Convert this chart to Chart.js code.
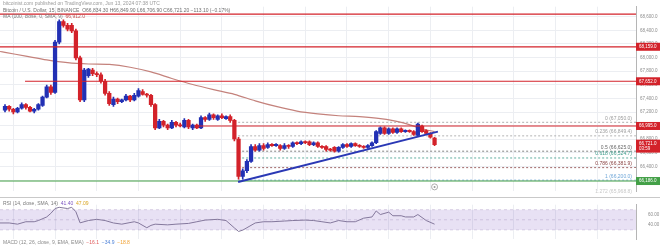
<!DOCTYPE html>
<html>
<head>
<meta charset="utf-8">
<script src="https://cdn.jsdelivr.net/npm/chart.js@4.4.1/dist/chart.umd.min.js"></script>
<style>
  html, body { margin: 0; padding: 0; background: #fff; }
  #wrap { position: relative; width: 660px; height: 246px; overflow: hidden; }
  .pane { position: absolute; left: 0; width: 660px; }
</style>
</head>
<body>
<div id="wrap">
  <div class="pane" style="top:0;height:198px"><canvas id="main"></canvas></div>
  <div class="pane" style="top:198px;height:48px"><canvas id="rsi"></canvas></div>
</div>
<script>
// BTC/USD 15 min candles
const openP = [67228,67282,67241,67200,67255,67310,67269,67214,67241,67296,67419,67570,67488,68228,68529,68474,68474,68392,67995,67378,
  67734,67817,67762,67748,67652,67474,67310,67392,67351,67378,67433,67378,67433,67502,67460,67447,67310,66967,67063,67008,
  66967,67049,67008,66981,67077,66967,67008,66967,67118,67091,67159,67091,67145,67104,67132,67077,66803,66255,66337,66474,
  66693,66638,66707,66680,66721,66707,66707,66666,66707,66693,66748,66735,66762,66762,66721,66748,66693,66693,66652,66680,
  66625,66680,66721,66693,66735,66707,66693,66680,66707,66748,66885,66967,66885,66954,66899,66954,66912,66926,66912,66858,
  66995,66926,66885,66817];
const highP = [67310,67296,67255,67269,67337,67323,67282,67255,67323,67433,67597,67597,68255,68556,68556,68502,68502,68419,68022,67844,
  67844,67844,67789,67776,67680,67502,67419,67406,67392,67460,67447,67474,67543,67529,67474,67460,67323,67091,67077,67022,
  67077,67063,67036,67104,67091,67022,67022,67145,67132,67186,67173,67159,67173,67145,67159,67091,66830,66364,66501,66721,
  66721,66735,66735,66748,66735,66735,66721,66735,66721,66762,66762,66776,66776,66776,66762,66762,66707,66707,66666,66693,
  66693,66735,66735,66748,66748,66721,66707,66721,66762,66926,66981,66981,66967,66967,66967,66967,66940,66940,66926,67036,
  67008,66940,66899,66830];
const lowP = [67200,67214,67173,67186,67241,67241,67200,67186,67228,67282,67406,67460,67474,68200,68447,68392,68365,67967,67351,67351,
  67707,67734,67721,67625,67447,67296,67282,67323,67337,67365,67351,67365,67419,67447,67419,67282,66940,66954,66981,66940,
  66954,66981,66981,66967,66954,66940,66954,66954,67063,67077,67091,67077,67104,67091,67049,66776,66214,66214,66310,66460,
  66625,66625,66638,66666,66693,66693,66638,66652,66666,66680,66721,66721,66735,66707,66707,66680,66666,66625,66625,66611,
  66611,66666,66680,66680,66693,66680,66666,66666,66693,66735,66871,66871,66871,66885,66885,66899,66899,66899,66858,66844,
  66899,66871,66817,66707];
const closeP = [67282,67241,67200,67255,67310,67269,67214,67241,67310,67419,67570,67488,68228,68529,68474,68419,68392,67995,67378,67817,
  67830,67762,67748,67652,67474,67323,67392,67351,67378,67433,67378,67447,67515,67460,67447,67310,66967,67063,67008,66967,
  67049,67008,66995,67077,66981,67008,66967,67118,67091,67159,67118,67145,67118,67132,67077,66803,66255,66337,66474,66693,
  66638,66707,66666,66721,66707,66721,66666,66707,66693,66748,66735,66762,66748,66721,66748,66693,66680,66652,66638,66625,
  66680,66721,66693,66735,66707,66693,66680,66707,66748,66912,66967,66885,66954,66899,66954,66912,66926,66912,66871,67022,
  66912,66885,66830,66721];

// simple moving average (100), traced
const maIdx = [-1.2, 0, 5, 10, 15, 20, 25, 30, 35, 40, 45, 50, 55, 60, 65, 70, 75, 80, 85, 90, 95, 100, 103];
const maVal = [68090,68077,68022,67967,67926,67906,67899,67858,67789,67693,67604,67529,67460,67365,67282,67214,67173,67145,67132,67104,67049,66954,66912];

// RSI (14), traced
const rsiIdx = [-1.2,1,3,5,7,8,10,11,12,13,15,16,17,18,20,22,24,26,28,31,32,34,35,36,39,41,44,46,48,51,53,55,56,57,58,60,62,64,67,69,72,74,76,78,80,82,84,86,88,89,90,92,93,95,96,98,99,101,103];
const rsiVal = [43.8,43.8,41.4,46.2,46.2,48.6,55.7,62.9,72.4,74.8,72.4,74.8,66,44,48.6,51,48.6,43.8,41.4,46.2,43.8,34.3,39,41.4,40,41.4,42.9,46.2,49.5,51,48.6,34,27,29.5,34.3,43.8,46.2,46.2,47.6,48.6,49.5,48.6,46.2,43.8,48.6,46.2,46.2,53.3,55.7,67.6,60.5,65.2,58.1,58.1,55.7,55.7,60.5,48.6,41.4];

// drawn levels
const redLevels = [68639, 68159, 67652, 66995];
const redFrom = [-1.2, -1.2, 4.8, 46.3];
const greenLevel = 66186;
const trendIdx = [55.9, 103.8];
const trendVal = [66173, 66912];
const fibTop = 67050, fibBottom = 66200, fibFrom = 55.9;
const fibRatios = [0, 0.236, 0.5, 0.618, 0.786, 1, 1.272];
const fibColors = ['#9a9a9a', '#a0a0a0', '#666666', '#3a9a88', '#8a4444', '#6fa7d8', '#c8c8c8'];

const BLUE = '#2230b4', RED = '#d3222a', GREEN = '#43a047', MA = '#c4827c';
const FONT = '"Liberation Sans", Arial, sans-serif';
const X_MIN = -1.2, X_MAX = 151.3;
const gridIdx = Array.from({ length: 15 }, (_, k) => 2 + 10 * k);
const fmt = v => v.toLocaleString('en-US', { minimumFractionDigits: 1, maximumFractionDigits: 1 });

const idx = closeP.map((_, i) => i);
const candleColor = idx.map(i => closeP[i] >= openP[i] ? BLUE : RED);
const fibPrice = r => fibTop - (fibTop - fibBottom) * r;

const flat = (from, price) => [{ x: from, y: price }, { x: X_MAX, y: price }];

const datasets = [
  { type: 'bar', data: idx.map(i => ({ x: i, y: [lowP[i], highP[i]] })), backgroundColor: candleColor,
    barThickness: 1, grouped: false, order: 3 },
  { type: 'bar', data: idx.map(i => ({ x: i, y: [openP[i], closeP[i]] })), backgroundColor: candleColor,
    barThickness: 3.6, minBarLength: 1.2, grouped: false, order: 2 },
  { type: 'line', data: maIdx.map((x, k) => ({ x, y: maVal[k] })), borderColor: MA, borderWidth: 1.2,
    pointRadius: 0, tension: 0.3, order: 4 },
  { type: 'line', data: flat(X_MIN, greenLevel), borderColor: GREEN, borderWidth: 1, pointRadius: 0, order: 1 },
  { type: 'line', data: trendIdx.map((x, k) => ({ x, y: trendVal[k] })), borderColor: '#2a38b5', borderWidth: 2,
    pointRadius: 0, order: 0 }
];
fibRatios.forEach((r, k) => {
  datasets.push({ type: 'line', data: flat(fibFrom, fibPrice(r)), borderColor: fibColors[k], borderWidth: 0.8,
    borderDash: [2, 2], pointRadius: 0, order: 5 });
});
redLevels.forEach((p, k) => {
  datasets.push({ type: 'line', data: flat(redFrom[k], p), borderColor: RED, borderWidth: 1.2, pointRadius: 0, order: 1 });
});

function tag(ctx, x0, y, lines, color) {
  const h = lines.length * 5 + 3;
  ctx.fillStyle = color;
  ctx.fillRect(x0, y - h / 2, 24, h);
  ctx.fillStyle = '#fff';
  ctx.font = '4.5px ' + FONT;
  ctx.textAlign = 'left';
  ctx.textBaseline = 'middle';
  lines.forEach((t, k) => ctx.fillText(t, x0 + 3, y - h / 2 + 4 + k * 5));
}

function runs(ctx, x, y, parts) {
  parts.forEach(([t, c]) => {
    ctx.fillStyle = c;
    ctx.fillText(t, x, y);
    x += ctx.measureText(t).width;
  });
}

const mainDecor = {
  id: 'mainDecor',
  afterDatasetsDraw(chart) {
    const { ctx, scales: { x, y }, chartArea } = chart;
    ctx.save();
    ctx.font = '5px ' + FONT;
    ctx.textAlign = 'right';
    ctx.textBaseline = 'alphabetic';
    fibRatios.forEach((r, k) => {
      const p = fibPrice(r);
      ctx.fillStyle = fibColors[k];
      ctx.fillText(r + ' (' + fmt(p) + ')', chartArea.right - 4, y.getPixelForValue(p) - 2.5);
    });
    // replay marker
    const cx = x.getPixelForValue(103), cy = y.getPixelForValue(66100);
    ctx.strokeStyle = '#999';
    ctx.lineWidth = 0.8;
    ctx.beginPath(); ctx.arc(cx, cy, 3, 0, Math.PI * 2); ctx.stroke();
    ctx.fillStyle = '#999';
    ctx.beginPath(); ctx.arc(cx, cy, 1, 0, Math.PI * 2); ctx.fill();
    ctx.restore();
  },
  afterDraw(chart) {
    const { ctx, scales: { y }, chartArea } = chart;
    ctx.save();
    ctx.font = '5px ' + FONT;
    ctx.textAlign = 'left';
    ctx.textBaseline = 'middle';
    runs(ctx, 3, 3.5, [['bitcoinist.com published on TradingView.com, Jun 13, 2024 07:38 UTC', '#9a9a9a']]);
    runs(ctx, 3, 11, [['Bitcoin / U.S. Dollar, 15, BINANCE  O66,834.30 H66,849.90 L66,706.90 C66,721.20 \u2212113.10 (\u22120.17%)', '#6f6f6f']]);
    runs(ctx, 3, 16.5, [['MA (100, close, 0, SMA, 9)  ', '#7a7a7a'], [fmt(maVal[maVal.length - 1]), '#c0504d']]);

    const x0 = chartArea.right;
    redLevels.slice(1).forEach(p => tag(ctx, x0, y.getPixelForValue(p), [fmt(p)], RED));
    tag(ctx, x0, y.getPixelForValue(greenLevel), [fmt(greenLevel)], GREEN);
    const last = closeP[closeP.length - 1];
    tag(ctx, x0, y.getPixelForValue(last) + 1.5, [fmt(last), '03:59'], RED);

    ctx.strokeStyle = '#c9c9c9';
    ctx.lineWidth = 1;
    ctx.beginPath(); ctx.moveTo(0, chart.height - 0.5); ctx.lineTo(chart.width, chart.height - 0.5); ctx.stroke();
    ctx.restore();
  }
};

new Chart(document.getElementById('main'), {
  type: 'bar',
  data: { datasets },
  options: {
    responsive: true,
    maintainAspectRatio: false,
    animation: false,
    layout: { padding: 0 },
    plugins: { legend: { display: false }, tooltip: { enabled: false } },
    scales: {
      x: {
        type: 'linear', min: X_MIN, max: X_MAX, offset: false,
        afterBuildTicks: s => { s.ticks = gridIdx.map(v => ({ value: v })); },
        ticks: { display: false },
        grid: { color: '#eceef2', drawTicks: false, offset: false },
        border: { display: false }
      },
      y: {
        position: 'right', min: 66035, max: 68748,
        afterFit: s => { s.width = 24; },
        grid: { color: '#eceef2', drawTicks: false },
        border: { display: true, color: '#b5b5b5' },
        ticks: { stepSize: 200, includeBounds: false, padding: 4, color: '#8c8c8c',
          font: { size: 4.5, family: FONT }, callback: v => fmt(v) }
      }
    }
  },
  plugins: [mainDecor]
});

const rsiDecor = {
  id: 'rsiDecor',
  beforeDatasetsDraw(chart) {
    const { ctx, scales: { y }, chartArea } = chart;
    const top = y.getPixelForValue(70), bot = y.getPixelForValue(30);
    ctx.save();
    ctx.fillStyle = 'rgba(126, 87, 194, 0.18)';
    ctx.fillRect(chartArea.left, top, chartArea.right - chartArea.left, bot - top);
    ctx.strokeStyle = 'rgba(150, 130, 180, 0.45)';
    ctx.lineWidth = 0.7;
    ctx.setLineDash([3, 3]);
    [70, 50, 30].forEach(v => {
      const py = y.getPixelForValue(v);
      ctx.beginPath(); ctx.moveTo(chartArea.left, py); ctx.lineTo(chartArea.right, py); ctx.stroke();
    });
    ctx.restore();
  },
  afterDraw(chart) {
    const { ctx } = chart;
    ctx.save();
    ctx.font = '5px ' + FONT;
    ctx.textAlign = 'left';
    ctx.textBaseline = 'middle';
    runs(ctx, 3, 6, [['RSI (14, close, SMA, 14)  ', '#7a7a7a'], [rsiVal[rsiVal.length - 1].toFixed(2) + '  ', '#7e57c2'], ['47.09', '#d9a520']]);
    runs(ctx, 3, 45, [['MACD (12, 26, close, 9, EMA, EMA)  ', '#8a8a8a'], ['\u221216.1  ', '#e05a5a'], ['\u221234.9  ', '#4a7fd6'], ['\u221218.8', '#f0a030']]);
    ctx.restore();
  }
};

new Chart(document.getElementById('rsi'), {
  type: 'line',
  data: {
    datasets: [{
      data: rsiIdx.map((x, k) => ({ x, y: rsiVal[k] })),
      borderColor: '#84789c', borderWidth: 1, pointRadius: 0, tension: 0
    }]
  },
  options: {
    responsive: true,
    maintainAspectRatio: false,
    animation: false,
    layout: { padding: 0 },
    plugins: { legend: { display: false }, tooltip: { enabled: false } },
    scales: {
      x: {
        type: 'linear', min: X_MIN, max: X_MAX,
        afterBuildTicks: s => { s.ticks = gridIdx.map(v => ({ value: v })); },
        ticks: { display: false },
        grid: { color: '#eceef2', drawTicks: false },
        border: { display: false }
      },
      y: {
        position: 'right', min: 11.4, max: 80,
        afterFit: s => { s.width = 24; },
        afterBuildTicks: s => { s.ticks = [60, 40].map(v => ({ value: v })); },
        grid: { display: false },
        border: { display: true, color: '#b5b5b5' },
        ticks: { padding: 4, color: '#8c8c8c', font: { size: 4.5, family: FONT }, callback: v => v.toFixed(2) }
      }
    }
  },
  plugins: [rsiDecor]
});
</script>
</body>
</html>
